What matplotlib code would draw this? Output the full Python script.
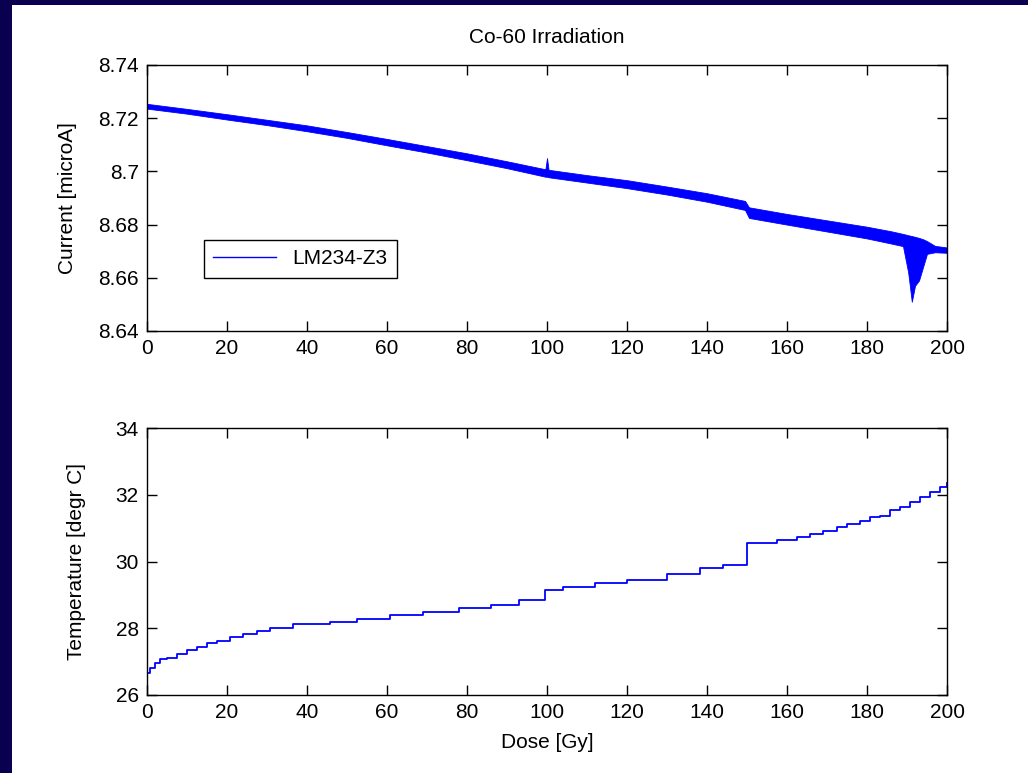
import matplotlib.pyplot as plt
from matplotlib.patches import Rectangle

# Current vs dose: centre line and noise envelope
dose_cur = [0, 10, 20, 30, 40, 50, 60, 70, 80, 90, 99.6, 100.0, 100.4, 110, 120, 130,
            140, 149.5, 150.5, 160, 170, 180, 186, 189.0, 190.3, 191.2, 192.0, 193.0,
            194.0, 195.0, 197, 200]
cur_mid = [8.7245, 8.7226, 8.7205, 8.7184, 8.7162, 8.7137, 8.7110, 8.7083, 8.7055,
           8.7025, 8.6994, 8.6995, 8.6992, 8.6972, 8.6952, 8.6928, 8.6902, 8.6872,
           8.6845, 8.6820, 8.6795, 8.6770, 8.6752, 8.6742, 8.6735, 8.6730, 8.6726,
           8.6722, 8.6718, 8.6714, 8.6708, 8.6704]
cur_high = [8.7254, 8.7235, 8.7215, 8.7194, 8.7173, 8.7148, 8.7122, 8.7095, 8.7068,
            8.7038, 8.7008, 8.7050, 8.7006, 8.6986, 8.6967, 8.6943, 8.6918, 8.6889,
            8.6865, 8.6840, 8.6816, 8.6792, 8.6775, 8.6765, 8.6760, 8.6757, 8.6754,
            8.6750, 8.6745, 8.6738, 8.6720, 8.6714]
cur_low = [8.7236, 8.7217, 8.7195, 8.7174, 8.7151, 8.7126, 8.7098, 8.7071, 8.7042,
           8.7012, 8.6980, 8.6980, 8.6978, 8.6958, 8.6937, 8.6913, 8.6886, 8.6855,
           8.6825, 8.6800, 8.6774, 8.6748, 8.6729, 8.6719, 8.6620, 8.6510, 8.6570,
           8.6590, 8.6640, 8.6690, 8.6696, 8.6694]

# Temperature vs dose (staircase)
dose_temp = [0, 0.8, 2, 3.2, 5, 7.4, 9.9, 12.4, 14.9, 17.5, 20.7, 24, 27.4, 30.7,
             36.5, 45.7, 52.4, 60.7, 69, 78, 86, 93, 99.6, 104, 112, 120, 130, 138.2,
             144, 149.9, 157.4, 162.4, 165.7, 169, 172.4, 174.9, 178.2, 180.7, 183.2,
             185.7, 188.2, 190.7, 193.2, 195.7, 198.2, 200]
temp = [26.65, 26.8, 26.95, 27.07, 27.12, 27.22, 27.35, 27.45, 27.55, 27.63, 27.73,
        27.83, 27.93, 28.02, 28.13, 28.2, 28.28, 28.4, 28.5, 28.6, 28.7, 28.85,
        29.15, 29.25, 29.35, 29.45, 29.62, 29.82, 29.9, 30.55, 30.64, 30.74, 30.81,
        30.91, 31.02, 31.11, 31.22, 31.32, 31.37, 31.54, 31.62, 31.79, 31.92, 32.09,
        32.24, 32.34]

NAVY = "#0a0050"
BLUE = "#0000ff"
FONT = "Liberation Sans"
FS = 15

plt.rcParams["font.family"] = FONT
plt.rcParams["font.size"] = FS

fig = plt.figure(figsize=(10.28, 7.73), dpi=100)
fig.patch.set_facecolor(NAVY)
fig.add_artist(Rectangle((12 / 1028, 0), 1 - 12 / 1028, 1 - 5 / 773,
                         transform=fig.transFigure, facecolor="white",
                         edgecolor="none", zorder=-10))

ax1 = fig.add_axes([147 / 1028, 1 - 331 / 773, 800 / 1028, 266 / 773])
ax2 = fig.add_axes([147 / 1028, 1 - 695 / 773, 800 / 1028, 267 / 773])

ax1.fill_between(dose_cur, cur_low, cur_high, color=BLUE, linewidth=0.6)
ax1.plot(dose_cur, cur_mid, color=BLUE, linewidth=1.0, label="LM234-Z3")
ax1.set_xlim(0, 200)
ax1.set_ylim(8.64, 8.74)
ax1.set_yticks([8.64, 8.66, 8.68, 8.70, 8.72, 8.74])
ax1.set_yticklabels(["8.64", "8.66", "8.68", "8.7", "8.72", "8.74"])
ax1.set_ylabel("Current [microA]", labelpad=15)
ax1.set_title("Co-60 Irradiation", pad=16, fontsize=FS)
leg = ax1.legend(loc="lower left", bbox_to_anchor=(0.071, 0.2), fancybox=False,
                 edgecolor="black", framealpha=1, borderpad=0.45, handlelength=3.0,
                 borderaxespad=0)
leg.get_frame().set_linewidth(1.0)

ax2.plot(dose_temp, temp, color=BLUE, linewidth=1.3, drawstyle="steps-post")
ax2.set_xlim(0, 200)
ax2.set_ylim(26, 34)
ax2.set_yticks([26, 28, 30, 32, 34])
ax2.set_ylabel("Temperature [degr C]", labelpad=21)
ax2.set_xlabel("Dose [Gy]", labelpad=8)

for ax in (ax1, ax2):
    ax.set_facecolor("white")
    ax.set_xticks(range(0, 201, 20))
    ax.tick_params(direction="in", length=7, width=1, top=True, right=True,
                   labelsize=FS, pad=6)
    for sp in ax.spines.values():
        sp.set_linewidth(1.0)

fig.savefig("out.png", dpi=100, facecolor=fig.get_facecolor())
